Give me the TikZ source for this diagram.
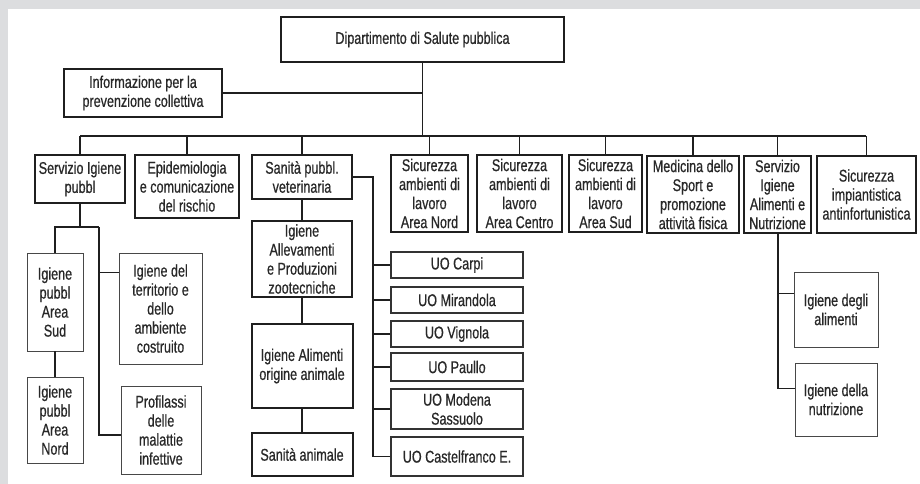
\documentclass[tikz,border=0pt]{standalone}
\usepackage{fontspec}
\setmainfont{Liberation Sans}[FakeStretch=0.74,FakeBold=0.6]
\definecolor{bggray}{RGB}{220,221,223}
\definecolor{txt}{RGB}{40,40,40}
\begin{document}
\begin{tikzpicture}[x=1pt,y=-1pt,
  sz/.style 2 args={minimum width=#1pt, minimum height=#2pt},
  box/.style={draw=black!88, line width=2pt, inner sep=0pt, align=center, text=txt,
    font=\fontsize{17}{19}\selectfont},
  tbox/.style={box, draw=black!72, line width=0.9pt},
  uobox/.style={box, draw=black!80, line width=1.2pt},
  conn/.style={line width=1.4pt, draw=black!88}]
\useasboundingbox (0,0) rectangle (920,484);
\fill[bggray] (0,0) rectangle (920,484);
\fill[white] (7.5,9.5) rectangle (920,484);

% top level
\node[box, sz={283}{45}] (top) at (422.5,39.5) {Dipartimento di Salute pubblica};
\node[box, sz={158}{48}] (info) at (143,93) {Informazione per la\\prevenzione collettiva};

% row
\node[box, sz={90}{48}]  (s1) at (80,179) {Servizio Igiene\\pubbl};
\node[box, sz={104}{63}] (s2) at (187,186.5) {Epidemiologia\\e comunicazione\\del rischio};
\node[box, sz={100}{44}] (s3) at (302,177) {Sanità pubbl.\\veterinaria};
\node[box, sz={77}{77}]  (s4) at (429.5,193.5) {Sicurezza\\ambienti di\\lavoro\\Area Nord};
\node[box, sz={85}{77}]  (s5) at (519.5,193.5) {Sicurezza\\ambienti di\\lavoro\\Area Centro};
\node[box, sz={73}{77}]  (s6) at (605.5,193.5) {Sicurezza\\ambienti di\\lavoro\\Area Sud};
\node[box, sz={92}{77}]  (s7) at (693,194.5) {Medicina dello\\Sport e\\promozione\\attività fisica};
\node[box, sz={67}{77}]  (s8) at (777.5,194.5) {Servizio\\Igiene\\Alimenti e\\Nutrizione};
\node[box, sz={99}{77}]  (s9) at (866.5,194.5) {Sicurezza\\impiantistica\\antinfortunistica};

% Servizio Igiene pubbl subtree
\node[tbox, sz={56}{98}] (ipS) at (55,302) {Igiene\\pubbl\\Area\\Sud};
\node[tbox, sz={56}{86}] (ipN) at (55,420) {Igiene\\pubbl\\Area\\Nord};
\node[tbox, sz={83}{111}] (iter) at (160.5,308.5) {Igiene del\\territorio e\\dello\\ambiente\\costruito};
\node[tbox, sz={80}{88}] (prof) at (161,430) {Profilassi\\delle\\malattie\\infettive};

% veterinaria subtree
\node[box, sz={100}{76}] (iall) at (302,259) {Igiene\\Allevamenti\\e Produzioni\\zootecniche};
\node[box, sz={101}{84}] (iali) at (302,366) {Igiene Alimenti\\origine animale};
\node[box, sz={101}{43}] (sani) at (302,454.5) {Sanità animale};

\node[uobox, sz={132}{26}] (uo1) at (457,265) {UO Carpi};
\node[uobox, sz={132}{26}] (uo2) at (457,300) {UO Mirandola};
\node[uobox, sz={132}{26}] (uo3) at (457,334) {UO Vignola};
\node[uobox, sz={132}{28}] (uo4) at (457,367) {UO Paullo};
\node[uobox, sz={132}{40}] (uo5) at (457,409) {UO Modena\\Sassuolo};
\node[uobox, sz={132}{39}] (uo6) at (457,456.5) {UO Castelfranco E.};

% alimenti subtree
\node[tbox, sz={84}{75}] (ida) at (836,309.5) {Igiene degli\\alimenti};
\node[tbox, sz={82}{73}] (idn) at (836,399.5) {Igiene della\\nutrizione};

% connectors
\coordinate (barL) at (80,136);
\coordinate (barR) at (866,136);
\draw[conn] (barL) -- (barR);
\draw[conn] (top.south) -- (top.south |- barL);
\draw[conn] (info.east) -- (info.east -| top.south);
\foreach \n in {s1,s2,s3,s4,s5,s6,s7,s8,s9}
  \draw[conn] (\n.north) -- (\n.north |- barL);

\coordinate (j1) at (80,227);
\coordinate (k1) at (99,227);
\draw[conn] (s1.south) -- (j1);
\draw[conn] (ipS.north) |- (k1);
\draw[conn] (ipS.south) -- (ipN.north);
\draw[conn] (k1) |- ([yshift=-5pt]prof.west);
\draw[conn] ([yshift=-20pt]iter.north west) -- ([yshift=-20pt]iter.north west -| k1);

\draw[conn] (s3.south) -- (iall.north);
\draw[conn] (iall.south) -- (iali.north);
\draw[conn] (iali.south) -- (sani.north);
\coordinate (uoTop) at (373,177);
\draw[conn] (s3.east) -- (uoTop) |- (uo6.west);
\foreach \n in {uo1,uo2,uo3,uo4,uo5}
  \draw[conn] (\n.west) -- (\n.west -| uoTop);

\coordinate (aTop) at (778,233);
\draw[conn] (aTop) |- ([yshift=-26pt]idn.north west);
\draw[conn] ([yshift=-22pt]ida.north west) -- ([yshift=-22pt]ida.north west -| aTop);
\end{tikzpicture}
\end{document}
